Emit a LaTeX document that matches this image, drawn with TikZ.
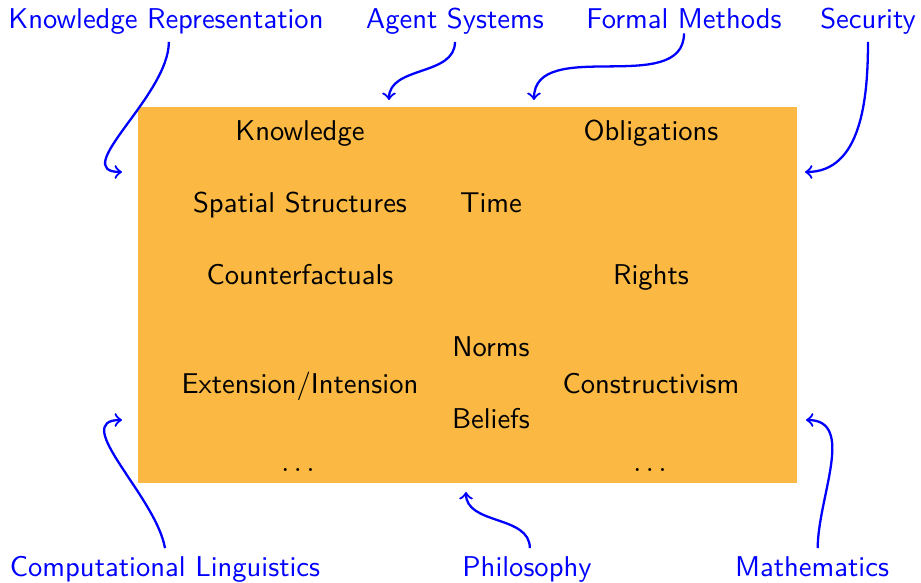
\documentclass[tikz,border=0pt]{standalone}
\usetikzlibrary{arrows,positioning}
\definecolor{fieldorange}{RGB}{251,185,67}

\begin{document}
\begin{tikzpicture}[
    x=0.01228cm, y=-0.01228cm,
    every node/.style={font=\sffamily, text height=1.5ex, text depth=.25ex},
    field/.style={fill=fieldorange, inner sep=0pt, minimum width=8.093cm, minimum height=4.617cm},
    topic/.style={text=blue},
    link/.style={->, >=to, thick, blue}
]
\useasboundingbox (0,0) rectangle (921,583);

% Central box with the notions
\node[field] (box) at (467.5,295) {};
\node (knowledge) at (300,133) {Knowledge};
\node (obligations) at (651,133) {Obligations};
\node (spatial) at (300,205) {Spatial Structures};
\node (time) at (491,205) {Time};
\node (counter) at (300,277) {Counterfactuals};
\node (rights) at (651,277) {Rights};
\node (norms) at (491,349) {Norms};
\node (extension) at (300,386) {Extension/Intension};
\node (construct) at (651,386) {Constructivism};
\node (beliefs) at (491,421) {Beliefs};
\node (dotsl) at (298,464) {$\ldots$};
\node (dotsr) at (650,464) {$\ldots$};

% Fields around
\node[topic] (kr) at (166,21) {Knowledge Representation};
\node[topic] (agents) at (455,21) {Agent Systems};
\node[topic] (formal) at (684,21) {Formal Methods};
\node[topic] (security) at (868,21) {Security};
\node[topic] (complin) at (165,569) {Computational Linguistics};
\node[topic] (philo) at (527,569) {Philosophy};
\node[topic] (maths) at (812,569) {Mathematics};

% Arrow ends
\coordinate (kr-end) at (122,172);
\coordinate (agents-end) at (389,100);
\coordinate (formal-end) at (534,100);
\coordinate (security-end) at (805,172);
\coordinate (complin-end) at (122,420);
\coordinate (philo-end) at (466,492);
\coordinate (maths-end) at (806,420);

% Arrows
\draw[link] ([xshift=1pt]kr.south) to[out=-90, in=180] (kr-end);
\draw[link] (agents.south) to[out=-90, in=90] (agents-end);
\draw[link] ([yshift=3pt]formal.south) to[out=-90, in=90] (formal-end);
\draw[link] (security.south) to[out=-90, in=0] (security-end);
\draw[link] (complin.north) to[out=100, in=180] (complin-end);
\draw[link] ([xshift=1pt]philo.north) to[out=90, in=-90] (philo-end);
\draw[link] ([xshift=2pt]maths.north) to[out=90, in=0] (maths-end);

\end{tikzpicture}
\end{document}
